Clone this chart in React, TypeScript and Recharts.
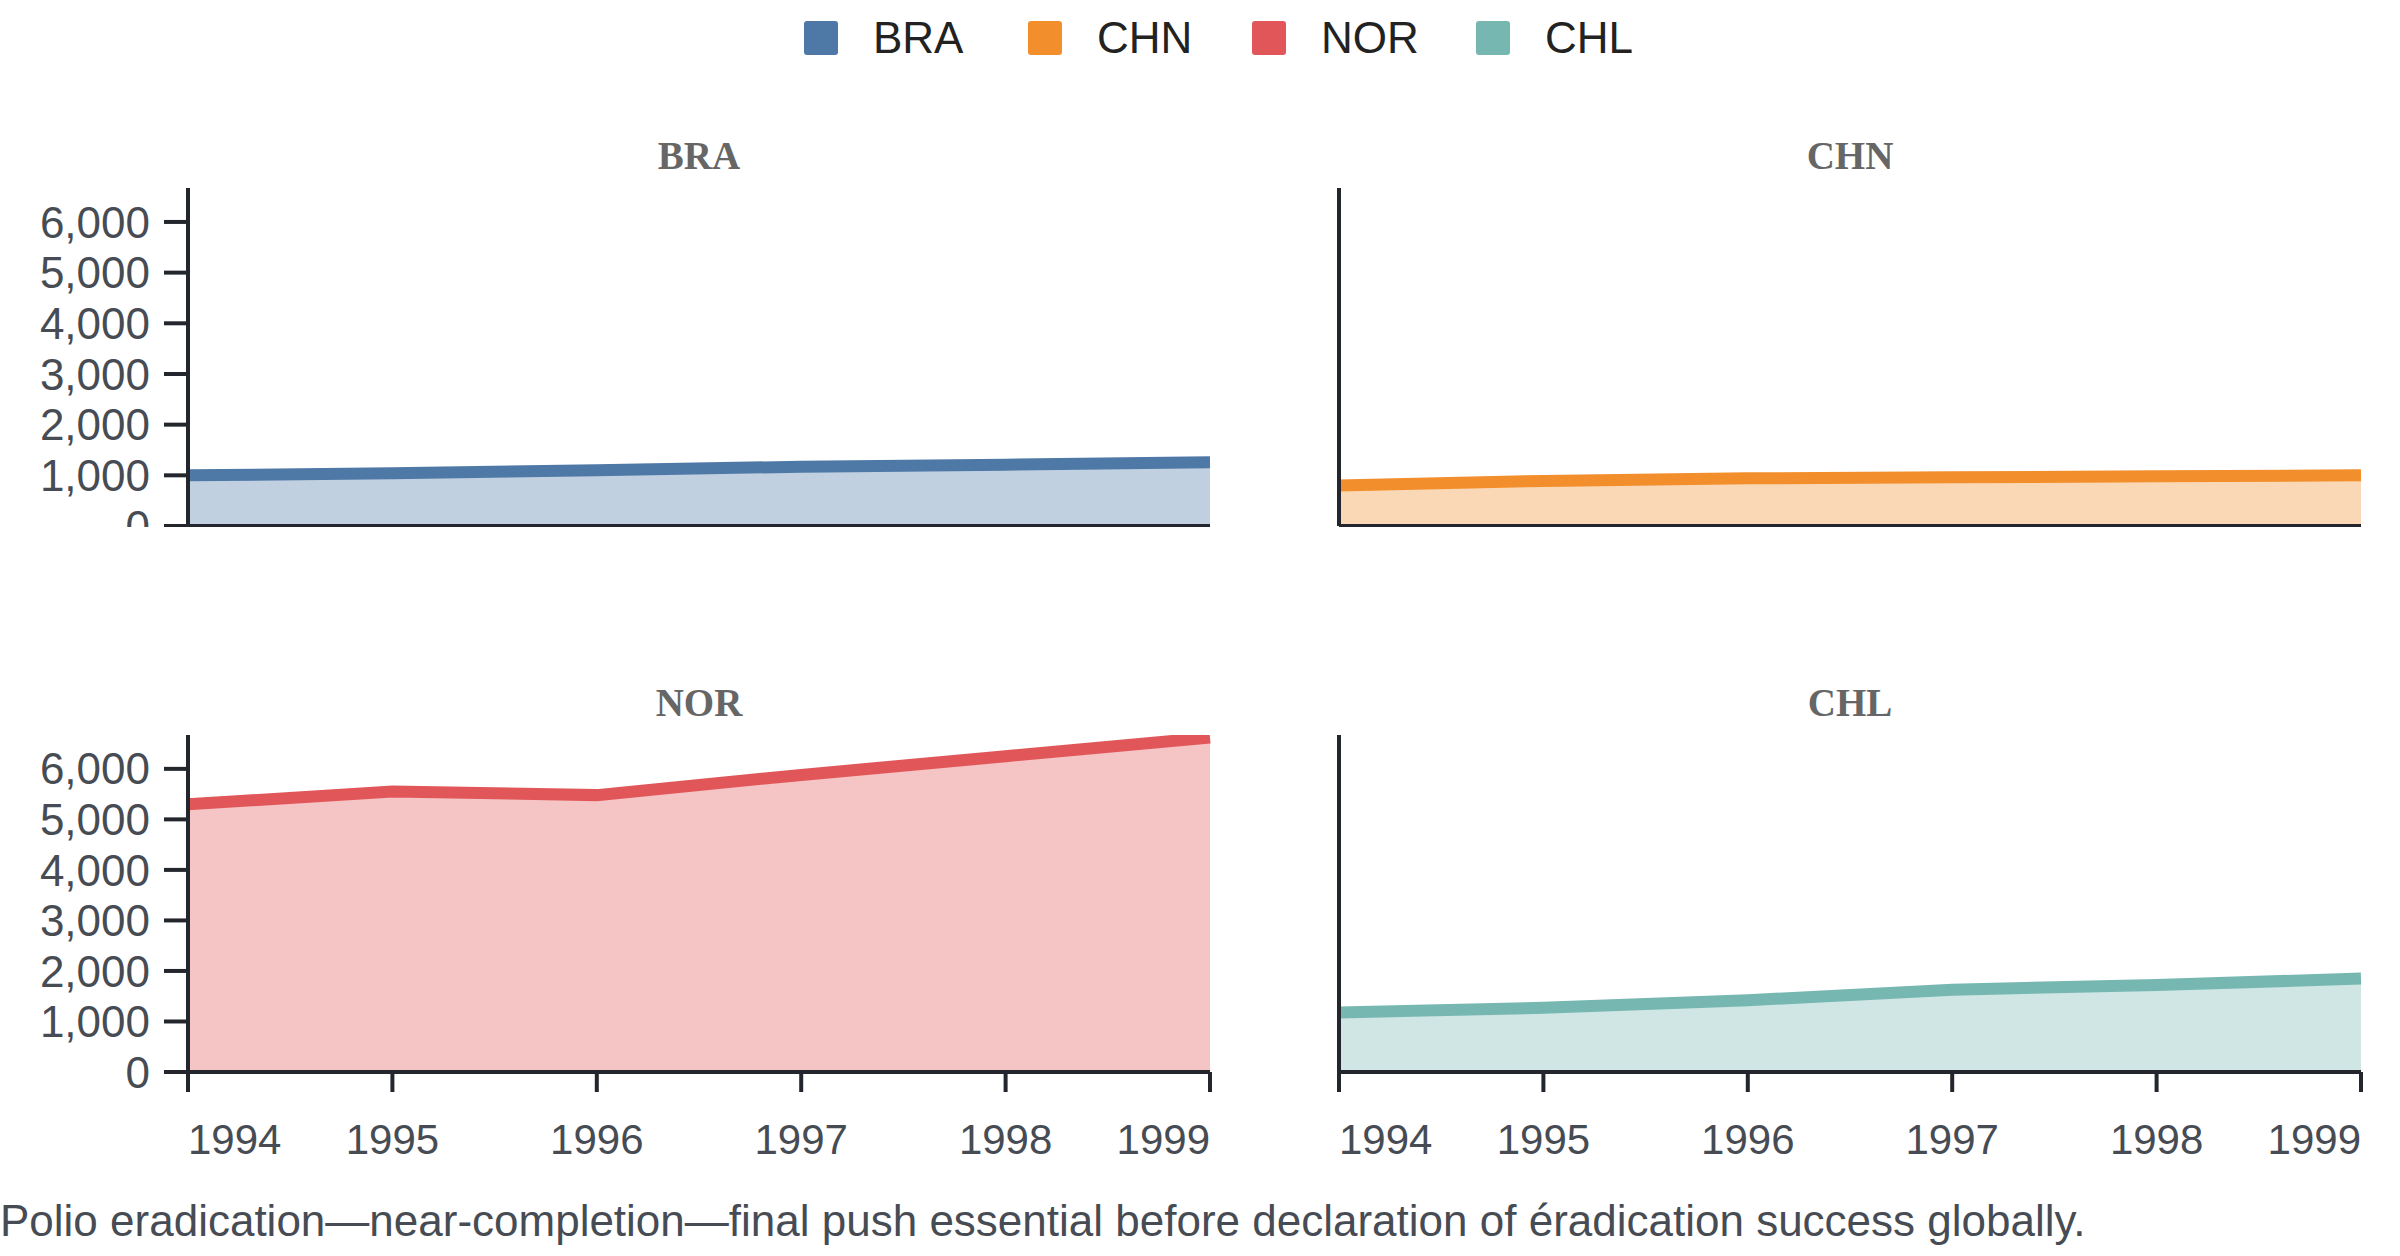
import React from 'react';
import { AreaChart, Area, XAxis, YAxis } from 'recharts';

const years = [1994, 1995, 1996, 1997, 1998, 1999];
const bra = [1000, 1040, 1100, 1170, 1210, 1260];
const chn = [800, 890, 940, 960, 980, 1000];
const nor = [5300, 5550, 5480, 5880, 6250, 6620];
const chl = [1180, 1270, 1420, 1630, 1720, 1850];
const yTicks = [0, 1000, 2000, 3000, 4000, 5000, 6000];
const caption =
  'Polio eradication\u2014near-completion\u2014final push essential before declaration of \u00e9radication success globally.';

const panels = [
  { name: 'BRA', values: bra, color: '#4e79a7', col: 0, row: 0 },
  { name: 'CHN', values: chn, color: '#f28e2b', col: 1, row: 0 },
  { name: 'NOR', values: nor, color: '#e15759', col: 0, row: 1 },
  { name: 'CHL', values: chl, color: '#76b7b2', col: 1, row: 1 },
];

const FONT = '"Liberation Sans", Arial, Helvetica, sans-serif';
const AXIS = '#23272d';
const TEXT = '#474c54';

const XTick = (props: any) => {
  const { x, y, payload, index } = props;
  const anchor = index === 0 ? 'start' : index === years.length - 1 ? 'end' : 'middle';
  return (
    <text x={x} y={y + 60} textAnchor={anchor} fill={TEXT} fontSize={42} fontFamily={FONT}>
      {payload.value}
    </text>
  );
};

function Panel({ p }: { p: (typeof panels)[number] }) {
  const data = years.map((yr, i) => ({ year: yr, v: p.values[i] }));
  const left = p.col === 0 ? 0 : 1151;
  const bottomRow = p.row === 1;
  const top = bottomRow ? 725 : 178;
  const plotH = bottomRow ? 337 : 338;
  return (
    <div style={{ position: 'absolute', left, top }}>
      <div
        style={{
          position: 'absolute',
          left: 188,
          width: 1022,
          top: -42,
          textAlign: 'center',
          fontFamily: '"Liberation Serif", "DejaVu Serif", serif',
          fontWeight: 'bold',
          fontSize: 39,
          color: '#666',
          lineHeight: '39px',
        }}
      >
        {p.name}
      </div>
      <AreaChart
        width={1220}
        height={10 + plotH + (bottomRow ? 90 : 1)}
        data={data}
        margin={{ top: 10, right: 10, left: 0, bottom: 0 }}
      >
        <XAxis
          dataKey="year"
          type="number"
          domain={[1994, 1999]}
          ticks={years}
          interval={0}
          axisLine={{ stroke: AXIS, strokeWidth: 4 }}
          tickLine={bottomRow ? { stroke: AXIS, strokeWidth: 4 } : false}
          tickSize={20}
          tick={bottomRow ? <XTick /> : false}
          height={bottomRow ? 90 : 1}
        />
        <YAxis
          domain={[0, 6670]}
          ticks={yTicks}
          interval={0}
          width={188}
          axisLine={{ stroke: AXIS, strokeWidth: 4 }}
          tickLine={p.col === 0 ? { stroke: AXIS, strokeWidth: 4 } : false}
          tickSize={24}
          tickMargin={14}
          tick={p.col === 0 ? { fill: TEXT, fontSize: 44, fontFamily: FONT } : false}
          tickFormatter={(v: number) => v.toLocaleString('en-US')}
          allowDataOverflow
        />
        <Area
          type="linear"
          dataKey="v"
          stroke={p.color}
          strokeWidth={12}
          fill={p.color}
          fillOpacity={0.35}
          isAnimationActive={false}
        />
      </AreaChart>
    </div>
  );
}

export default function App() {
  return (
    <div
      style={{
        position: 'absolute',
        left: 0,
        top: 0,
        width: 2400,
        height: 1256,
        background: '#fff',
        fontFamily: FONT,
        overflow: 'hidden',
      }}
    >
      <div style={{ position: 'absolute', top: 14, left: 804, display: 'flex' }}>
        {panels.map((p) => (
          <div key={p.name} style={{ width: 224, display: 'flex', alignItems: 'center', gap: 35 }}>
            <div style={{ width: 34, height: 34, background: p.color, borderRadius: 3 }} />
            <span style={{ fontSize: 44, color: '#222', lineHeight: '48px' }}>{p.name}</span>
          </div>
        ))}
      </div>
      {panels.map((p) => (
        <Panel key={p.name} p={p} />
      ))}
      <div
        style={{
          position: 'absolute',
          left: 0,
          top: 1196,
          fontSize: 44,
          lineHeight: '50px',
          color: TEXT,
          whiteSpace: 'nowrap',
        }}
      >
        {caption}
      </div>
    </div>
  );
}
